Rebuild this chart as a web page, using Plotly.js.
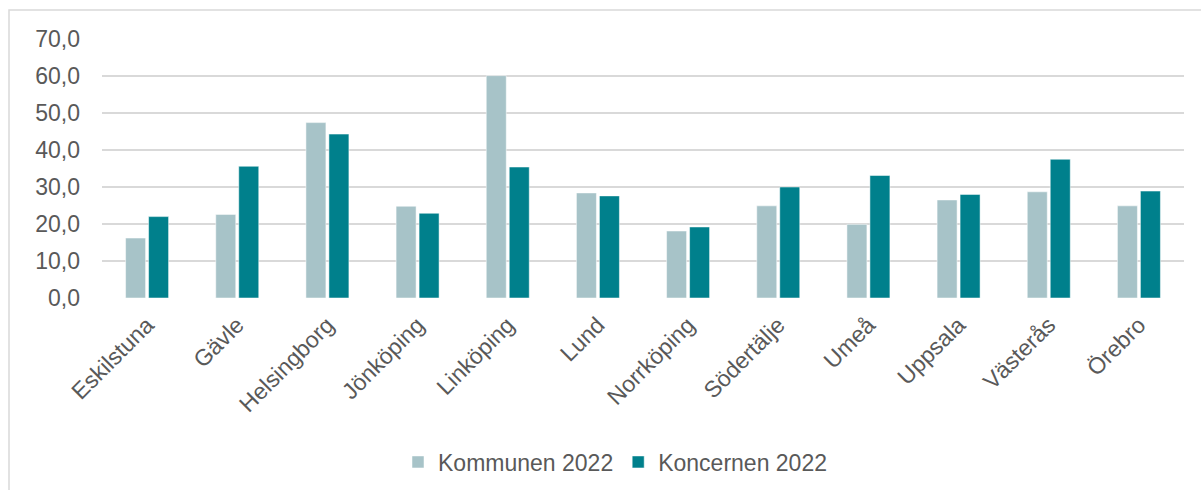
<!DOCTYPE html>
<html>
<head>
<meta charset="utf-8">
<script src="https://cdn.plot.ly/plotly-3.0.1.min.js"></script>
<style>html,body{margin:0;padding:0;background:#fff}#chart{width:1201px;height:490px}</style>
</head>
<body>
<div id="chart"></div>
<script>
const categories = ["Eskilstuna","Gävle","Helsingborg","Jönköping","Linköping","Lund","Norrköping","Södertälje","Umeå","Uppsala","Västerås","Örebro"];
const kommunen2022 = [16.2, 22.6, 47.4, 24.8, 60.1, 28.4, 18.1, 24.9, 19.9, 26.5, 28.7, 24.9];
const koncernen2022 = [22.0, 35.6, 44.3, 22.9, 35.4, 27.6, 19.2, 30.0, 33.1, 28.0, 37.5, 28.9];
const yTicks = [0,10,20,30,40,50,60,70];

const font = {family: "Liberation Sans, Arial, sans-serif", size: 23, color: "#595959"};

const traces = [
  {type: "bar", name: "Kommunen 2022", x: categories, y: kommunen2022,
   marker: {color: "#A7C3C8", line: {color: "#ffffff", width: 0.5}}},
  {type: "bar", name: "Koncernen 2022", x: categories, y: koncernen2022,
   marker: {color: "#00808C", line: {color: "#ffffff", width: 0.5}}}
];

const layout = {
  width: 1201, height: 490,
  margin: {l: 102, r: 17, t: 39, b: 192, autoexpand: false},
  paper_bgcolor: "#ffffff", plot_bgcolor: "#ffffff",
  font: font,
  separators: ",\u00a0",
  barmode: "group",
  bargap: 0.49,
  bargroupgap: 0.13,
  showlegend: true,
  legend: {orientation: "h", xref: "container", x: 615/1201, xanchor: "center",
           yref: "container", y: 1 - 462/490, yanchor: "middle",
           font: font, itemwidth: 30, traceorder: "normal"},
  xaxis: {tickangle: -45, tickfont: font, showgrid: false, zeroline: false,
          showline: false, ticks: "", fixedrange: true, ticklabelstandoff: 8, automargin: false},
  yaxis: {range: [0, 70], tickvals: yTicks, tickformat: ".1f", tickfont: font,
          showgrid: true, gridcolor: "#d9d9d9", gridwidth: 1.5, zeroline: false,
          showline: false, ticks: "", ticklabelstandoff: 21, automargin: false},
  shapes: [{type: "rect", xref: "paper", yref: "paper",
            x0: -93/1082, x1: 1.2, y0: -1.5, y1: 1 + 29/259,
            line: {color: "#d9d9d9", width: 1.5}, fillcolor: "rgba(0,0,0,0)", layer: "below"}]
};

Plotly.newPlot("chart", traces, layout, {displayModeBar: false, staticPlot: true});
</script>
</body>
</html>
